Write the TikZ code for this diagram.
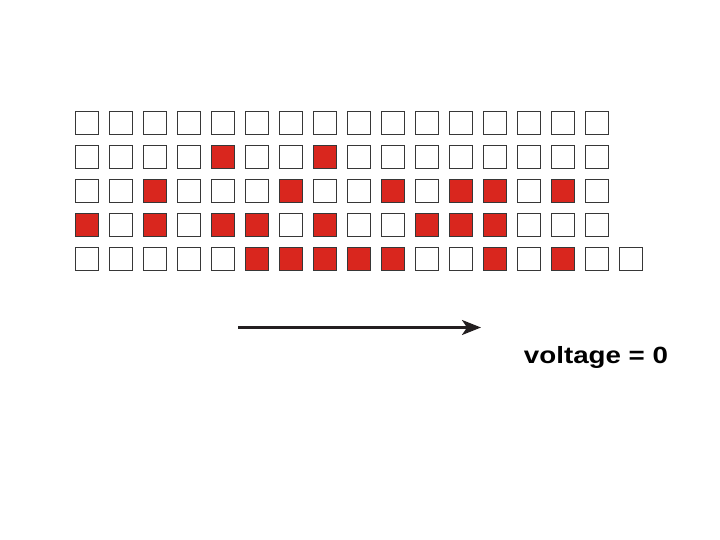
\documentclass[tikz,border=0pt]{standalone}
\usepackage{fontspec}
\newfontfamily\labelfont{Liberation Sans}
\usepackage{tikz}
\usetikzlibrary{matrix,arrows.meta}

\definecolor{cellred}{RGB}{217,38,30}
\definecolor{cellline}{RGB}{55,55,55}
\definecolor{arrowink}{RGB}{35,31,32}

\tikzset{
  cell/.style={draw=cellline, fill=white, line width=1.2pt, minimum size=22.5pt, inner sep=0pt, outer sep=0pt},
  on/.style={fill=cellred},
  flow/.style={draw=arrowink, line width=2.6pt, -{Stealth[length=19pt,width=15pt,inset=5pt]}},
  caption text/.style={font=\labelfont\bfseries\fontsize{23.5}{28}\selectfont, text=black, inner sep=0pt,
                       xscale=1.18, transform shape}
}

\begin{document}
\begin{tikzpicture}
  \useasboundingbox (0,0) rectangle (720pt,-540pt);
  \matrix (m) [matrix of nodes, nodes in empty cells, nodes={cell}, row sep=10.3pt, column sep=10.3pt,
               inner sep=0pt, anchor=north west] at (75pt,-111pt)
  {
           &        &        &        &        &        &        &        &        &        &        &        &        &        &        &        \\
           &        &        &        & |[on]| &        &        & |[on]| &        &        &        &        &        &        &        &        \\
           &        & |[on]| &        &        &        & |[on]| &        &        & |[on]| &        & |[on]| & |[on]| &        & |[on]| &        \\
    |[on]| &        & |[on]| &        & |[on]| & |[on]| &        & |[on]| &        &        & |[on]| & |[on]| & |[on]| &        &        &        \\
           &        &        &        &        & |[on]| & |[on]| & |[on]| & |[on]| & |[on]| &        &        & |[on]| &        & |[on]| &        &        \\
  };
  \coordinate (start) at (238pt,-327.5pt);
  \coordinate (stop) at (481pt,-327.5pt);
  \draw[flow] (start) -- (stop);
  \node[caption text] (volt) at (596pt,-357.5pt) {voltage = 0};
\end{tikzpicture}
\end{document}
